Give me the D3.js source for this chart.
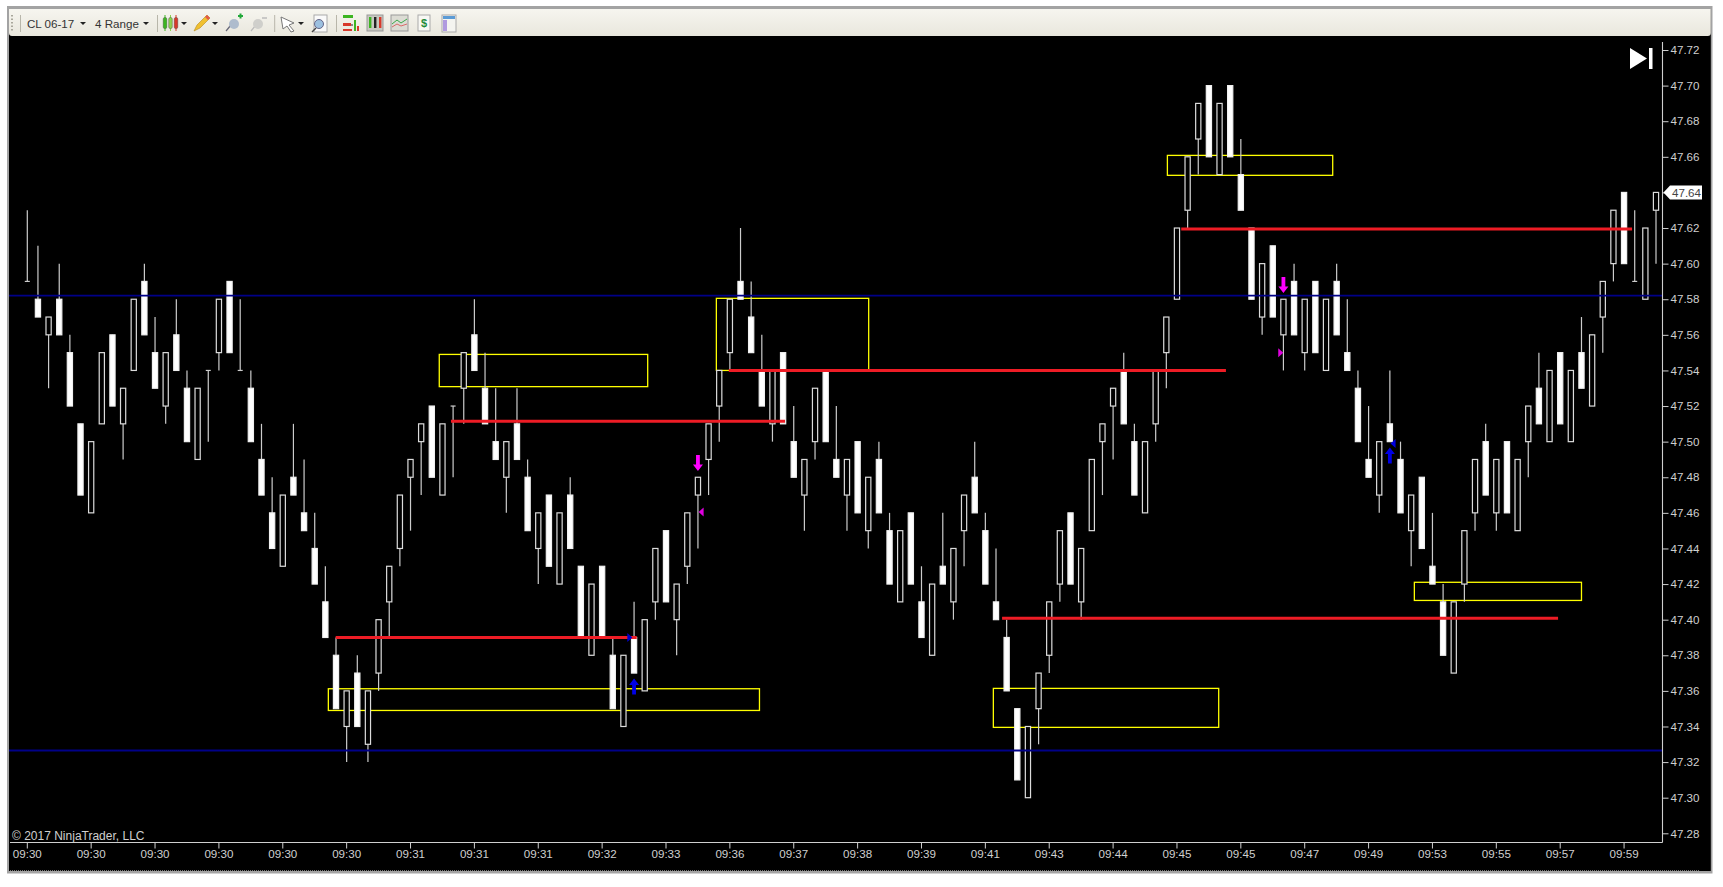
<!DOCTYPE html>
<html><head><meta charset="utf-8"><title>CL 06-17 4 Range</title>
<script src="https://cdn.jsdelivr.net/npm/d3@7/dist/d3.min.js"></script>
<style>html,body{margin:0;padding:0;background:#fff;overflow:hidden}svg{display:block}text{font-family:"Liberation Sans",Arial,sans-serif}</style>
</head><body><svg id="c" width="1723" height="887"></svg>
<script>
const opens=[47.59,47.58,47.56,47.58,47.55,47.51,47.46,47.51,47.56,47.51,47.54,47.59,47.55,47.52,47.56,47.53,47.49,47.54,47.55,47.59,47.54,47.53,47.49,47.46,47.43,47.48,47.46,47.44,47.41,47.38,47.34,47.37,47.33,47.37,47.41,47.44,47.48,47.50,47.52,47.47,47.52,47.53,47.56,47.53,47.50,47.48,47.51,47.48,47.44,47.47,47.42,47.47,47.43,47.38,47.43,47.38,47.34,47.39,47.36,47.41,47.45,47.40,47.43,47.47,47.49,47.52,47.55,47.59,47.57,47.54,47.51,47.55,47.50,47.47,47.50,47.54,47.49,47.47,47.50,47.45,47.49,47.45,47.41,47.46,47.41,47.38,47.43,47.41,47.45,47.48,47.45,47.41,47.39,47.35,47.30,47.35,47.38,47.42,47.46,47.41,47.45,47.50,47.52,47.54,47.50,47.46,47.51,47.55,47.58,47.63,47.67,47.70,47.65,47.70,47.65,47.62,47.57,47.61,47.56,47.59,47.55,47.59,47.54,47.59,47.55,47.53,47.49,47.47,47.51,47.49,47.45,47.48,47.43,47.41,47.37,47.42,47.46,47.50,47.46,47.50,47.45,47.50,47.53,47.50,47.55,47.50,47.55,47.52,47.57,47.60,47.64,47.59,47.58,47.63];
const closes=[47.59,47.57,47.57,47.56,47.52,47.47,47.50,47.55,47.52,47.53,47.58,47.56,47.53,47.55,47.54,47.50,47.53,47.54,47.58,47.55,47.54,47.50,47.47,47.44,47.47,47.47,47.45,47.42,47.39,47.35,47.36,47.34,47.36,47.40,47.43,47.47,47.49,47.51,47.48,47.51,47.52,47.55,47.54,47.51,47.49,47.50,47.49,47.45,47.46,47.43,47.46,47.44,47.39,47.42,47.39,47.35,47.38,47.37,47.40,47.44,47.41,47.42,47.46,47.48,47.51,47.54,47.58,47.58,47.55,47.52,47.54,47.51,47.48,47.49,47.53,47.50,47.48,47.49,47.46,47.48,47.46,47.42,47.45,47.42,47.39,47.42,47.42,47.44,47.47,47.46,47.42,47.40,47.36,47.31,47.34,47.37,47.41,47.45,47.42,47.44,47.49,47.51,47.53,47.51,47.47,47.50,47.54,47.57,47.62,47.66,47.69,47.66,47.69,47.66,47.63,47.58,47.60,47.57,47.58,47.56,47.58,47.55,47.58,47.56,47.54,47.50,47.48,47.50,47.50,47.46,47.47,47.44,47.42,47.38,47.41,47.45,47.49,47.47,47.49,47.46,47.49,47.52,47.51,47.54,47.51,47.54,47.53,47.56,47.59,47.63,47.60,47.59,47.62,47.64];
const highs=[47.63,47.61,47.57,47.60,47.56,47.51,47.50,47.55,47.56,47.53,47.58,47.60,47.57,47.55,47.58,47.54,47.53,47.54,47.58,47.59,47.58,47.54,47.51,47.48,47.47,47.51,47.49,47.46,47.43,47.39,47.36,47.38,47.36,47.40,47.43,47.47,47.49,47.51,47.52,47.51,47.52,47.55,47.58,47.55,47.53,47.50,47.53,47.49,47.46,47.47,47.46,47.48,47.43,47.42,47.43,47.39,47.38,47.41,47.40,47.44,47.45,47.42,47.46,47.48,47.51,47.54,47.58,47.62,47.59,47.56,47.54,47.55,47.52,47.49,47.53,47.54,47.52,47.49,47.50,47.48,47.50,47.46,47.45,47.46,47.43,47.42,47.46,47.44,47.47,47.50,47.46,47.44,47.40,47.35,47.34,47.37,47.41,47.45,47.46,47.44,47.49,47.51,47.53,47.55,47.51,47.50,47.54,47.57,47.62,47.66,47.69,47.70,47.69,47.70,47.67,47.62,47.60,47.61,47.58,47.60,47.58,47.59,47.58,47.60,47.58,47.54,47.52,47.50,47.54,47.50,47.47,47.48,47.46,47.42,47.41,47.45,47.49,47.51,47.49,47.50,47.49,47.52,47.55,47.54,47.55,47.54,47.57,47.56,47.59,47.63,47.64,47.63,47.62,47.64];
const lows=[47.59,47.57,47.53,47.56,47.52,47.47,47.46,47.51,47.52,47.49,47.54,47.56,47.53,47.51,47.54,47.50,47.49,47.50,47.54,47.55,47.54,47.50,47.47,47.44,47.43,47.47,47.45,47.42,47.39,47.35,47.32,47.34,47.32,47.36,47.39,47.43,47.45,47.47,47.48,47.47,47.48,47.51,47.54,47.51,47.49,47.46,47.49,47.45,47.42,47.43,47.42,47.44,47.39,47.38,47.39,47.35,47.34,47.37,47.36,47.40,47.41,47.38,47.42,47.44,47.47,47.50,47.54,47.58,47.55,47.52,47.50,47.51,47.48,47.45,47.49,47.50,47.48,47.45,47.46,47.44,47.46,47.42,47.41,47.42,47.39,47.38,47.42,47.40,47.43,47.46,47.42,47.40,47.36,47.31,47.30,47.33,47.37,47.41,47.42,47.40,47.45,47.47,47.49,47.51,47.47,47.46,47.50,47.53,47.58,47.62,47.65,47.66,47.65,47.66,47.63,47.58,47.56,47.57,47.54,47.56,47.54,47.55,47.54,47.56,47.54,47.50,47.48,47.46,47.50,47.46,47.43,47.44,47.42,47.38,47.37,47.41,47.45,47.47,47.45,47.46,47.45,47.48,47.51,47.50,47.51,47.50,47.53,47.52,47.55,47.59,47.60,47.59,47.58,47.60];
const timeLabels=["09:30","09:30","09:30","09:30","09:30","09:30","09:31","09:31","09:31","09:32","09:33","09:36","09:37","09:38","09:39","09:41","09:43","09:44","09:45","09:45","09:47","09:49","09:53","09:55","09:57","09:59"];
const priceTicks=[47.28,47.30,47.32,47.34,47.36,47.38,47.40,47.42,47.44,47.46,47.48,47.50,47.52,47.54,47.56,47.58,47.60,47.62,47.64,47.66,47.68,47.70,47.72];
const lastPrice=47.64;
const bluePrices=[47.582,47.3265];
// [start bar, end bar, price]
const redStart=[28.97,39.8,65.9,91.57,108.4], redEnd=[57.25,71.18,112.6,143.8,150.75], redPrice=[47.39,47.5115,47.54,47.4008,47.6195];
// zones: bars and prices
const zoneStart=[28.28,38.7,64.73,90.75,107.1,130.3], zoneEnd=[68.78,58.28,79.04,111.92,122.63,146.0], zoneTop=[47.3612,47.549,47.5805,47.3614,47.6608,47.421], zoneBottom=[47.349,47.5309,47.54,47.3395,47.6496,47.4108];
const upArrowBar=[57,128], upArrowPrice=[47.3624,47.4922];
const downArrowBar=[63,118], downArrowPrice=[47.488,47.588];
const triBar=[63.3,117.75,56.6,128.3], triPrice=[47.4605,47.55,47.39,47.499], triDir=[-1,1,1,-1], triColor=["#e000e0","#e000e0","#0000c8","#0000e0"];

const svg=d3.select("#c");
const L={frameL:7,frameR:1712.5,frameT:6,frameB:873.5,plotL:9,plotR:1710.8,plotT:36,plotB:871,axisX:1662.5,axisY:842.5};
const x=d3.scaleLinear().domain([0,153]).range([27.3,1656]);
const y=d3.scaleLinear().domain([47.28,47.72]).range([833.3,50]);
const bars=d3.range(opens.length);

const defs=svg.append("defs");
const g=defs.append("linearGradient").attr("id","tb").attr("x1",0).attr("x2",0).attr("y1",0).attr("y2",1);
g.append("stop").attr("offset",0).attr("stop-color","#f6f5ef");
g.append("stop").attr("offset",1).attr("stop-color","#e9e7dd");

svg.append("rect").attr("x",L.frameL).attr("y",L.frameT).attr("width",L.frameR-L.frameL).attr("height",L.frameB-L.frameT).attr("fill","#a3a3a3");
svg.append("rect").attr("x",L.plotL).attr("y",9).attr("width",L.plotR-L.plotL).attr("height",L.plotB-9).attr("fill","#000");
svg.append("line").attr("x1",10).attr("x2",1700).attr("y1",870.5).attr("y2",870.5).attr("stroke","#777").attr("stroke-dasharray","1 1");
svg.append("path").attr("d",`M${L.plotL} 9H${L.plotR}V33a3 3 0 0 1-3 3H${L.plotL+3}a3 3 0 0 1-3-3Z`).attr("fill","url(#tb)");

// toolbar
const tb=svg.append("g");
const sep=[20.5,157.5,274.7,336.5];
tb.selectAll("line.s").data(sep).join("line").attr("x1",d=>d).attr("x2",d=>d).attr("y1",15).attr("y2",32).attr("stroke","#b8b6aa");
tb.append("line").attr("x1",12).attr("x2",12).attr("y1",15).attr("y2",31).attr("stroke","#a9a79c").attr("stroke-width",2).attr("stroke-dasharray","1.5 2");
tb.selectAll("text.t").data([["CL 06-17",27],["4 Range",95]]).join("text").attr("x",d=>d[1]).attr("y",27.5).attr("font-size",11.6).attr("fill","#333").text(d=>d[0]);
tb.selectAll("path.dd").data([83,146,184,215,301]).join("path").attr("d",d=>`M${d-3} 22h6l-3 3z`).attr("fill","#222");
// candle icon
[[165,"#3cb521"],[170.5,"#8fd14f"],[176,"#d8392b"]].forEach(([cx,c])=>{
 tb.append("line").attr("x1",cx).attr("x2",cx).attr("y1",15).attr("y2",31).attr("stroke",c);
 tb.append("rect").attr("x",cx-1.8).attr("y",17.5).attr("width",3.6).attr("height",11).attr("rx",1.5).attr("fill",c).attr("stroke","#444").attr("stroke-width",.4);});
// pencil
tb.append("path").attr("d","M194 31l3-6 10-10 3 3-10 10z").attr("fill","#f0c030").attr("stroke","#b58a20").attr("stroke-width",.6);
tb.append("path").attr("d","M205 17l3 3 2-2-3-3z").attr("fill","#e25a4a");
// pins
tb.append("path").attr("d","M226 31l5-6").attr("stroke","#667").attr("stroke-width",1.2);
tb.append("circle").attr("cx",234).attr("cy",24).attr("r",5).attr("fill","#aebccd");
tb.append("path").attr("d","M238 16h5M240.5 13.5v5").attr("stroke","#22a83a").attr("stroke-width",2);
tb.append("path").attr("d","M251 31l5-6").attr("stroke","#bbb").attr("stroke-width",1.2);
tb.append("circle").attr("cx",258).attr("cy",24).attr("r",5).attr("fill","#cfcfcb");
tb.append("path").attr("d","M262 18h5").attr("stroke","#bbb").attr("stroke-width",1.5);
// cursor
tb.append("path").attr("d","M281 17l13 6-5 2 5 6-3 1-4-6-4 3z").attr("fill","#fff").attr("stroke","#777");
// magnifier
tb.append("rect").attr("x",314).attr("y",15).attr("width",13).attr("height",17).attr("fill","#fafafa").attr("stroke","#aaa");
tb.append("circle").attr("cx",319).attr("cy",24).attr("r",4.5).attr("fill","#9cc0e0").attr("stroke","#668");
tb.append("path").attr("d","M312 32l4-4").attr("stroke","#444").attr("stroke-width",1.5);
// strategy icon
[[343,15,10,3,"#3cb521"],[350,24,3,2,"#888"],[343,23,8,3,"#d8392b"],[354,20,2,11,"#3cb521"],[357,26,2,5,"#d8392b"],[343,29,9,2,"#d8392b"]].forEach(d=>
 tb.append("rect").attr("x",d[0]).attr("y",d[1]).attr("width",d[2]).attr("height",d[3]).attr("fill",d[4]));
// boxed candles
tb.append("rect").attr("x",367).attr("y",15).attr("width",16).attr("height",16).attr("fill","#c8c8c0").attr("stroke","#999");
[[370,"#3cb521"],[375,"#222"],[380,"#d8392b"]].forEach(([cx,c])=>tb.append("rect").attr("x",cx-1).attr("y",17).attr("width",2.4).attr("height",11).attr("fill",c));
// indicator
tb.append("rect").attr("x",391).attr("y",15).attr("width",17).attr("height",16).attr("fill","#dcdcd4").attr("stroke","#999");
tb.append("path").attr("d","M392 24l5-4 4 3 6-4").attr("fill","none").attr("stroke","#3aa84a");
tb.append("path").attr("d","M392 27l5-3 4 2 6-2").attr("fill","none").attr("stroke","#d86a6a");
// $ doc
tb.append("rect").attr("x",418).attr("y",15).attr("width",12).attr("height",16).attr("fill","#f8f8f4").attr("stroke","#aaa");
tb.append("text").attr("x",424).attr("y",27).attr("font-size",11).attr("font-weight","bold").attr("text-anchor","middle").attr("fill","#1e8c3a").text("$");
// table
tb.append("rect").attr("x",442).attr("y",15).attr("width",14).attr("height",17).attr("fill","#f4f4f0").attr("stroke","#aaa");
tb.append("rect").attr("x",443).attr("y",16).attr("width",12).attr("height",3).attr("fill","#5b9bd5");
tb.append("rect").attr("x",443).attr("y",20).attr("width",4).attr("height",11).attr("fill","#b09adf");

// zones (below bars)
svg.append("g").selectAll("rect").data(zoneStart).join("rect")
 .attr("x",(d,i)=>x(d)).attr("y",(d,i)=>y(zoneTop[i])).attr("width",(d,i)=>x(zoneEnd[i])-x(d)).attr("height",(d,i)=>y(zoneBottom[i])-y(zoneTop[i]))
 .attr("fill","none").attr("stroke","#ffff00").attr("stroke-width",1.3);

// wicks
const bw=5.2;
svg.append("g").selectAll("line").data(bars).join("line")
 .attr("x1",i=>x(i)).attr("x2",i=>x(i)).attr("y1",i=>y(highs[i])).attr("y2",i=>y(lows[i]))
 .attr("stroke","#cccccc").attr("stroke-width",1.2);
// bodies
svg.append("g").selectAll("rect").data(bars.filter(i=>opens[i]!==closes[i])).join("rect")
 .attr("x",i=>x(i)-bw/2).attr("width",bw)
 .attr("y",i=>y(Math.max(opens[i],closes[i])))
 .attr("height",i=>Math.abs(y(opens[i])-y(closes[i])))
 .attr("fill",i=>opens[i]>closes[i]?"#fff":"#000")
 .attr("stroke",i=>opens[i]>closes[i]?"#f0f0f0":"#dcdcdc").attr("stroke-width",1.2);
// doji
svg.append("g").selectAll("line").data(bars.filter(i=>opens[i]===closes[i])).join("line")
 .attr("x1",i=>x(i)-2.5).attr("x2",i=>x(i)+2.5).attr("y1",i=>y(opens[i])).attr("y2",i=>y(opens[i]))
 .attr("stroke","#ccc").attr("stroke-width",1.2);

// horizontal levels
svg.append("g").selectAll("line").data(bluePrices).join("line")
 .attr("x1",L.plotL).attr("x2",L.axisX).attr("y1",d=>y(d)).attr("y2",d=>y(d))
 .attr("stroke","#000088").attr("stroke-width",1.8);
svg.append("g").selectAll("line").data(redPrice).join("line")
 .attr("x1",(d,i)=>x(redStart[i])).attr("x2",(d,i)=>x(redEnd[i])).attr("y1",d=>y(d)).attr("y2",d=>y(d))
 .attr("stroke","#ee1c25").attr("stroke-width",3);

// markers
const arrow="M-1.9 -8H1.9V1.5H5L0 8L-5 1.5H-1.9Z";
svg.append("g").selectAll("path").data(downArrowBar).join("path")
 .attr("d",arrow).attr("transform",(d,i)=>`translate(${x(d)},${y(downArrowPrice[i])})`).attr("fill","#ff00ff");
svg.append("g").selectAll("path").data(upArrowBar).join("path")
 .attr("d",arrow).attr("transform",(d,i)=>`translate(${x(d)},${y(upArrowPrice[i])}) scale(1,-1)`).attr("fill","#0000e6");
svg.append("g").selectAll("path").data(triBar).join("path")
 .attr("d",(d,i)=>`M${-2.5*triDir[i]} -4.5L${2.5*triDir[i]} 0L${-2.5*triDir[i]} 4.5Z`)
 .attr("transform",(d,i)=>`translate(${x(d)},${y(triPrice[i])})`).attr("fill",(d,i)=>triColor[i]);

// axes
const ax=svg.append("g").attr("transform",`translate(${L.axisX},0)`)
 .call(d3.axisRight(y).tickValues(priceTicks).tickFormat(d3.format(".2f")).tickSize(6).tickPadding(2));
ax.select(".domain").remove();
ax.selectAll("line").attr("stroke","#cfcfcf");
ax.selectAll("text").attr("fill","#cfcfcf").attr("font-size",11.6).attr("font-family",'"Liberation Sans",Arial,sans-serif');
const bx=svg.append("g").attr("transform",`translate(-0.5,${L.axisY})`)
 .call(d3.axisBottom(x).tickValues(timeLabels.map((d,i)=>i*6)).tickFormat(d=>timeLabels[d/6]).tickSize(6).tickPadding(1));
bx.select(".domain").remove();
bx.selectAll("line").attr("stroke","#cfcfcf");
bx.selectAll("text").attr("fill","#cfcfcf").attr("font-size",11.6).attr("font-family",'"Liberation Sans",Arial,sans-serif');
svg.append("line").attr("x1",L.axisX).attr("x2",L.axisX).attr("y1",42).attr("y2",L.axisY).attr("stroke","#cfcfcf").attr("stroke-width",1.1);
svg.append("line").attr("x1",10).attr("x2",L.axisX).attr("y1",L.axisY).attr("y2",L.axisY).attr("stroke","#cfcfcf").attr("stroke-width",1.1);

// last price marker
const ly=y(lastPrice);
svg.append("path").attr("d",`M1663.5 ${ly}L1670 ${ly-7}H1702V${ly+7}H1670Z`).attr("fill","#fff");
svg.append("text").attr("x",1672).attr("y",ly+4.2).attr("font-size",11.6).attr("fill","#444").text(d3.format(".2f")(lastPrice));

// skip-to-end icon
svg.append("path").attr("d","M1630 48L1647 58.5L1630 69Z").attr("fill","#fff");
svg.append("rect").attr("x",1649).attr("y",48).attr("width",3.5).attr("height",21).attr("fill","#fff");

svg.append("text").attr("x",12).attr("y",839.5).attr("font-size",12).attr("fill","#cfcfcf").text("© 2017 NinjaTrader, LLC");
</script></body></html>
